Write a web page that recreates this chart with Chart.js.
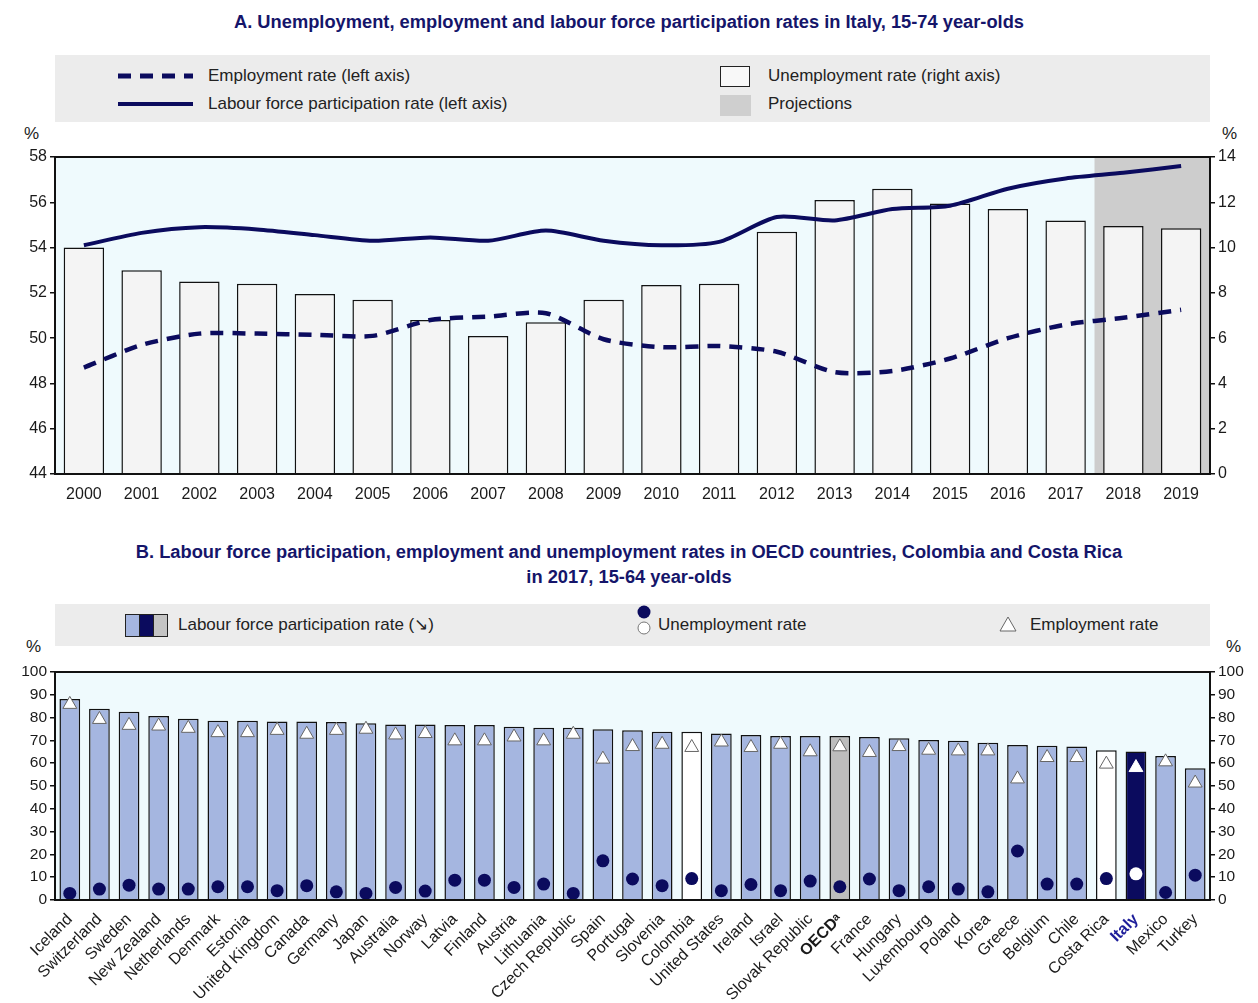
<!DOCTYPE html>
<html lang="en">
<head>
<meta charset="UTF-8">
<title>Labour market rates, Italy and OECD</title>
<script src="https://cdn.jsdelivr.net/npm/chart.js"></script>
<style>
    body { margin: 0; width: 1258px; height: 1003px; position: relative; overflow: hidden; background: #fff;
           font-family: "Liberation Sans Narrow", "Arial Narrow", "Liberation Sans", Arial, sans-serif; }
    .abs { position: absolute; }
    .title { left: 0; width: 1258px; text-align: center; color: #15156a; font-weight: bold; font-size: 18.3px; line-height: 25px; }
    .legend-box { left: 55px; width: 1155px; background: #ececec; }
    .leg { font-size: 17px; color: #222; white-space: nowrap; line-height: 20px; }
    .pct { font-size: 17px; color: #222; }
    canvas { position: absolute; left: 0; }
</style>
</head>
<body>
    <!-- Panel A -->
    <div class="abs title" style="top:9px;">A. Unemployment, employment and labour force participation rates in Italy, 15-74 year-olds</div>
    <div class="abs legend-box" style="top:55px; height:67px;"></div>
    <svg class="abs" style="left:115px; top:66px;" width="80" height="50">
        <line x1="3" y1="10" x2="78" y2="10" stroke="#0b0b5e" stroke-width="5" stroke-dasharray="13,9"/>
        <line x1="3" y1="38" x2="78" y2="38" stroke="#0b0b5e" stroke-width="4"/>
    </svg>
    <div class="abs leg" style="left:208px; top:66px;">Employment rate (left axis)</div>
    <div class="abs leg" style="left:208px; top:94px;">Labour force participation rate (left axis)</div>
    <div class="abs" style="left:720px; top:66px; width:28px; height:19px; border:1.5px solid #222; background:#f8f8f8;"></div>
    <div class="abs" style="left:720px; top:95px; width:31px; height:21px; background:#cfcfcf;"></div>
    <div class="abs leg" style="left:768px; top:66px;">Unemployment rate (right axis)</div>
    <div class="abs leg" style="left:768px; top:94px;">Projections</div>
    <div class="abs pct" style="left:24px; top:124px;">%</div>
    <div class="abs pct" style="left:1222px; top:124px;">%</div>
    <canvas id="chartA" width="1258" height="370" style="top:140px;"></canvas>

    <!-- Panel B -->
    <div class="abs title" style="top:539px;">B. Labour force participation, employment and unemployment rates in OECD countries, Colombia and Costa Rica<br>in 2017, 15-64 year-olds</div>
    <div class="abs legend-box" style="top:604px; height:42px;"></div>
    <div class="abs" style="left:125px; top:614px; width:13px; height:21px; background:#a5b6e0; border:1.5px solid #222;"></div>
    <div class="abs" style="left:139px; top:614px; width:13px; height:21px; background:#0b0b5e; border:1.5px solid #222;"></div>
    <div class="abs" style="left:153px; top:614px; width:13px; height:21px; background:#c4c4c4; border:1.5px solid #222;"></div>
    <div class="abs leg" style="left:178px; top:615px;">Labour force participation rate (&#8600;)</div>
    <svg class="abs" style="left:634px; top:602px;" width="24" height="38">
        <circle cx="10" cy="10" r="6.5" fill="#0b0b5e"/>
        <circle cx="10" cy="26" r="6" fill="#fff" stroke="#777" stroke-width="1"/>
    </svg>
    <div class="abs leg" style="left:658px; top:615px;">Unemployment rate</div>
    <svg class="abs" style="left:998px; top:614px;" width="22" height="22">
        <polygon points="10,3 18,17 2,17" fill="#fff" stroke="#666" stroke-width="1"/>
    </svg>
    <div class="abs leg" style="left:1030px; top:615px;">Employment rate</div>
    <div class="abs pct" style="left:26px; top:637px;">%</div>
    <div class="abs pct" style="left:1226px; top:637px;">%</div>
    <canvas id="chartB" width="1258" height="348" style="top:655px;"></canvas>

    <script>
        // Panel A data
        const years = ['2000', '2001', '2002', '2003', '2004', '2005', '2006', '2007', '2008', '2009',
                       '2010', '2011', '2012', '2013', '2014', '2015', '2016', '2017', '2018', '2019'];
        const employmentRate = [48.7, 49.7, 50.2, 50.2, 50.15, 50.1, 50.8, 50.95, 51.1, 49.95,
                                49.6, 49.65, 49.4, 48.5, 48.55, 49.1, 50.0, 50.6, 50.9, 51.25];
        const participationRate = [54.1, 54.65, 54.9, 54.8, 54.55, 54.3, 54.45, 54.3, 54.75, 54.3,
                                   54.1, 54.25, 55.35, 55.2, 55.7, 55.85, 56.6, 57.05, 57.3, 57.6];
        const unemploymentRate = [10.0, 9.0, 8.5, 8.4, 7.95, 7.7, 6.8, 6.1, 6.7, 7.7,
                                  8.35, 8.4, 10.7, 12.1, 12.6, 11.95, 11.7, 11.2, 10.95, 10.85];
        const projectionStart = '2018';

        // Panel B data
        const countries = ['Iceland', 'Switzerland', 'Sweden', 'New Zealand', 'Netherlands', 'Denmark', 'Estonia',
                           'United Kingdom', 'Canada', 'Germany', 'Japan', 'Australia', 'Norway', 'Latvia', 'Finland',
                           'Austria', 'Lithuania', 'Czech Republic', 'Spain', 'Portugal', 'Slovenia', 'Colombia',
                           'United States', 'Ireland', 'Israel', 'Slovak Republic', 'OECD\u1D43', 'France', 'Hungary',
                           'Luxembourg', 'Poland', 'Korea', 'Greece', 'Belgium', 'Chile', 'Costa Rica', 'Italy',
                           'Mexico', 'Turkey'];
        const lfpRate = [88.2, 83.9, 82.6, 80.7, 79.5, 78.6, 78.6, 78.3, 78.3, 78.1, 77.5, 77.0, 77.0, 76.7, 76.7,
                         76.0, 75.6, 75.6, 74.9, 74.4, 73.8, 73.8, 73.0, 72.4, 71.9, 71.9, 71.9, 71.5, 70.9, 70.2,
                         69.8, 69.0, 68.0, 67.6, 67.3, 65.7, 65.1, 63.2, 57.8];
        const empRate = [85.8, 79.2, 76.6, 76.3, 75.3, 73.4, 73.4, 74.4, 72.7, 74.4, 74.9, 72.4, 73.0, 69.8, 69.8,
                         71.5, 69.8, 72.7, 61.8, 67.3, 68.3, 66.9, 69.3, 66.9, 68.3, 65.0, 67.2, 64.7, 67.3, 65.7,
                         65.4, 65.4, 53.1, 62.5, 62.5, 59.6, 58.1, 60.6, 51.3];
        const unempRate = [2.9, 4.8, 6.5, 4.8, 4.8, 5.8, 5.8, 4.1, 6.3, 3.6, 2.9, 5.5, 3.9, 8.7, 8.7,
                           5.5, 7.0, 2.9, 17.2, 9.2, 6.3, 9.4, 4.1, 6.8, 4.1, 8.3, 5.8, 9.2, 4.1, 5.8,
                           4.8, 3.6, 21.5, 7.0, 7.0, 9.4, 11.5, 3.3, 10.9];

        const FONT = '"Liberation Sans Narrow", "Arial Narrow", "Liberation Sans", Arial, sans-serif';
        const NAVY = '#0b0b5e';
        const TEXT = '#1a1a1a';

        // background, projection shading and black frame round the plot area
        const plotFrame = {
            id: 'plotFrame',
            beforeDatasetsDraw(chart, args, opts) {
                const { ctx, chartArea: a } = chart;
                ctx.save();
                ctx.fillStyle = opts.background;
                ctx.fillRect(a.left, a.top, a.right - a.left, a.bottom - a.top);
                if (opts.shadeFrom) {
                    const x = chart.scales.x;
                    const i = chart.data.labels.indexOf(opts.shadeFrom);
                    const left = (x.getPixelForValue(i - 1) + x.getPixelForValue(i)) / 2;
                    ctx.fillStyle = opts.shadeColor;
                    ctx.fillRect(left, a.top, a.right - left, a.bottom - a.top);
                }
                ctx.restore();
            },
            afterDatasetsDraw(chart) {
                const { ctx, chartArea: a } = chart;
                ctx.save();
                ctx.strokeStyle = '#111';
                ctx.lineWidth = 2;
                ctx.strokeRect(a.left, a.top, a.right - a.left, a.bottom - a.top);
                ctx.restore();
            }
        };

        function yAxis(position, min, max, step, width, size) {
            return {
                position, min, max,
                ticks: { stepSize: step, autoSkip: false, color: TEXT, font: { size, family: FONT }, padding: 3 },
                grid: { drawOnChartArea: false, tickLength: 5, color: '#111', lineWidth: 1.5 },
                border: { display: false },
                afterFit: s => { s.width = width; }
            };
        }

        new Chart(document.getElementById('chartA'), {
            data: {
                labels: years,
                datasets: [
                    {
                        type: 'line', label: 'Labour force participation rate (left axis)',
                        data: participationRate, yAxisID: 'y', borderColor: NAVY, borderWidth: 4,
                        pointRadius: 0, tension: 0.25, order: 0
                    },
                    {
                        type: 'line', label: 'Employment rate (left axis)',
                        data: employmentRate, yAxisID: 'y', borderColor: NAVY, borderWidth: 4.5,
                        borderDash: [13, 9], pointRadius: 0, tension: 0.25, order: 1
                    },
                    {
                        type: 'bar', label: 'Unemployment rate (right axis)',
                        data: unemploymentRate, yAxisID: 'y1', backgroundColor: '#f4f4f4',
                        borderColor: '#111', borderWidth: 1.5, barPercentage: 0.7, categoryPercentage: 1, order: 2
                    }
                ]
            },
            options: {
                responsive: false,
                animation: false,
                layout: { padding: { top: 17, left: 0, right: 0, bottom: 0 } },
                plugins: {
                    legend: { display: false },
                    tooltip: { enabled: false },
                    plotFrame: { background: '#effafd', shadeFrom: projectionStart, shadeColor: '#cdcdcd' }
                },
                scales: {
                    x: {
                        grid: { display: false }, border: { display: false },
                        ticks: { color: TEXT, font: { size: 16, family: FONT }, padding: 3, maxRotation: 0 },
                        afterFit: s => { s.height = 36; }
                    },
                    y: yAxis('left', 44, 58, 2, 55, 16),
                    y1: yAxis('right', 0, 14, 2, 48, 16)
                }
            },
            plugins: [plotFrame]
        });

        const barColours = countries.map(c => {
            if (c === 'Italy') return NAVY;
            if (c === 'OECD\u1D43') return '#bdbdbd';
            if (c === 'Colombia' || c === 'Costa Rica') return '#ffffff';
            return '#a5b6e0';
        });

        new Chart(document.getElementById('chartB'), {
            data: {
                labels: countries,
                datasets: [
                    {
                        type: 'line', label: 'Unemployment rate', data: unempRate, showLine: false,
                        pointStyle: 'circle', pointRadius: 6.5, pointBorderWidth: 0,
                        pointBackgroundColor: countries.map(c => c === 'Italy' ? '#ffffff' : NAVY),
                        order: 0
                    },
                    {
                        type: 'line', label: 'Employment rate', data: empRate, showLine: false,
                        pointStyle: 'triangle', pointRadius: 8, pointBackgroundColor: '#ffffff',
                        pointBorderColor: countries.map(c => c === 'Italy' ? '#ffffff' : '#666'), pointBorderWidth: 1,
                        order: 1
                    },
                    {
                        type: 'bar', label: 'Labour force participation rate', data: lfpRate,
                        backgroundColor: barColours, borderColor: '#111', borderWidth: 1.5,
                        barPercentage: 0.7, categoryPercentage: 1, order: 2
                    }
                ]
            },
            options: {
                responsive: false,
                animation: false,
                layout: { padding: { top: 17, left: 0, right: 0, bottom: 0 } },
                plugins: {
                    legend: { display: false },
                    tooltip: { enabled: false },
                    plotFrame: { background: '#effafd' }
                },
                scales: {
                    x: {
                        grid: { display: false }, border: { display: false },
                        ticks: {
                            autoSkip: false, minRotation: 45, maxRotation: 45, padding: 2,
                            color: ctx => countries[ctx.index] === 'Italy' ? '#1d1d9a' : TEXT,
                            font: ctx => ({
                                size: 16, family: FONT,
                                weight: (countries[ctx.index] === 'Italy' || countries[ctx.index] === 'OECD\u1D43') ? 'bold' : 'normal'
                            })
                        },
                        afterFit: s => { s.height = 103; }
                    },
                    y: yAxis('left', 0, 100, 10, 55, 15.5),
                    y1: yAxis('right', 0, 100, 10, 48, 15.5)
                }
            },
            plugins: [plotFrame]
        });
    </script>
</body>
</html>
